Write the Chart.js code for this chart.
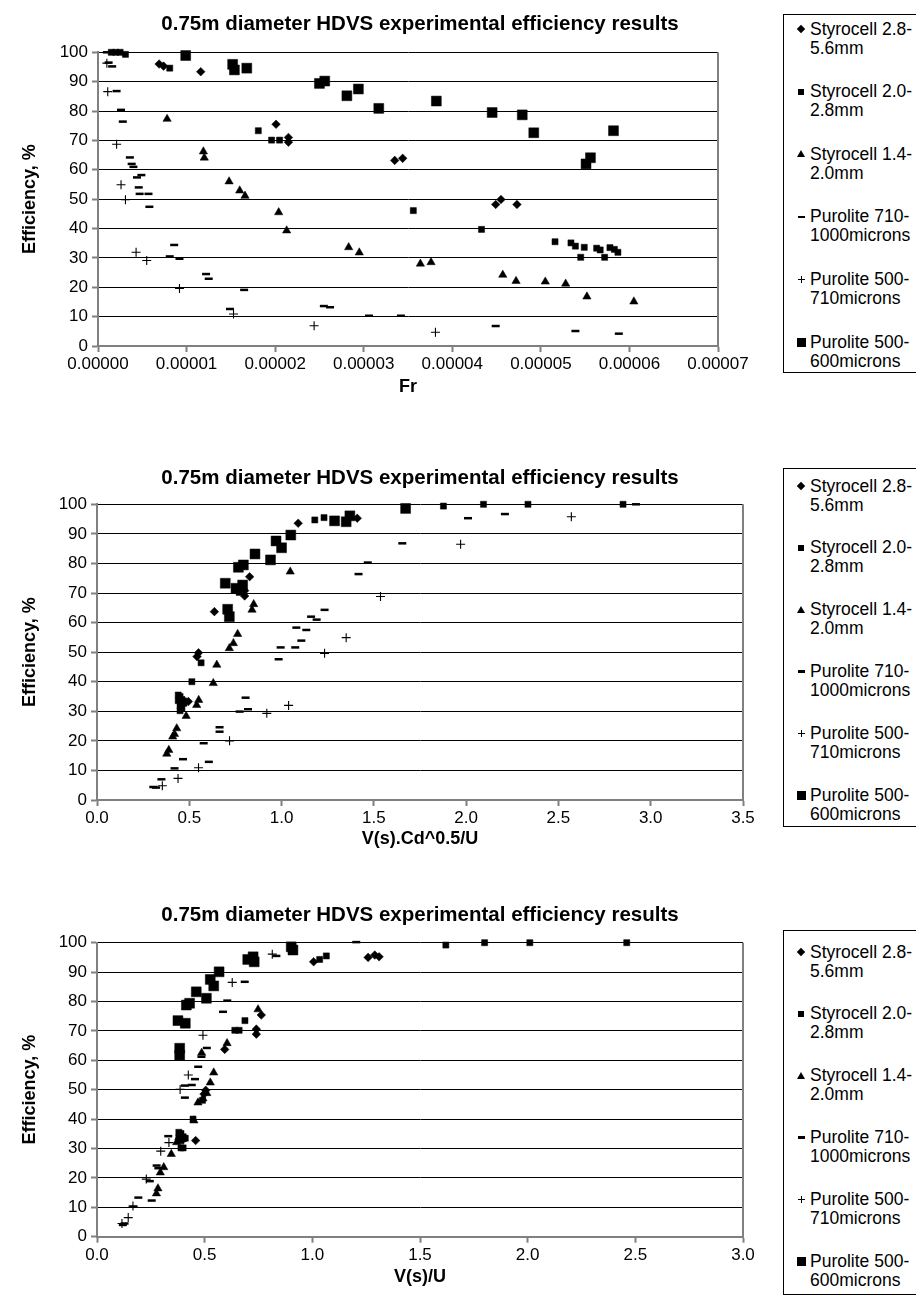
<!DOCTYPE html>
<html><head><meta charset="utf-8">
<script src="https://cdn.jsdelivr.net/npm/chart.js@4.4.0/dist/chart.umd.min.js"></script>
<style>
html,body{margin:0;padding:0;background:#fff;}
body{width:916px;height:1305px;position:relative;overflow:hidden;font-family:"Liberation Sans",Arial,sans-serif;}
canvas{position:absolute;left:0;}
.title{position:absolute;left:0;width:840px;text-align:center;font-weight:bold;font-size:20.5px;line-height:24px;color:#000;white-space:nowrap;}
.legend{position:absolute;left:783px;width:150px;border:1px solid #000;box-sizing:border-box;background:#fff;}
.item{position:absolute;left:0;width:140px;font-size:17.5px;line-height:19px;color:#000;}
.item .t{position:absolute;left:26px;top:0;white-space:pre;}
.mk{position:absolute;}
</style>
</head><body>
<canvas id="c1" width="840" height="400" style="top:0px"></canvas>
<canvas id="c2" width="840" height="400" style="top:452px"></canvas>
<canvas id="c3" width="840" height="400" style="top:890px"></canvas>
<div id="t1" class="title" style="top:11px"></div>
<div id="t2" class="title" style="top:465px"></div>
<div id="t3" class="title" style="top:902px"></div>
<div id="lg1" class="legend" style="top:14px;height:359px"></div>
<div id="lg2" class="legend" style="top:468px;height:359px"></div>
<div id="lg3" class="legend" style="top:930px;height:365px"></div>
<script>
// ---------- labels ----------
const TITLE = '0.75m diameter HDVS experimental efficiency results';
const Y_TITLE = 'Efficiency, %';
const X_TITLES = ['Fr', 'V(s).Cd^0.5/U', 'V(s)/U'];
const SERIES_NAMES = ['Styrocell 2.8-\n5.6mm', 'Styrocell 2.0-\n2.8mm', 'Styrocell 1.4-\n2.0mm',
  'Purolite 710-\n1000microns', 'Purolite 500-\n710microns', 'Purolite 500-\n600microns'];
const Y_TICKS = [0, 10, 20, 30, 40, 50, 60, 70, 80, 90, 100];
const X1_TICKS = [0, 0.00001, 0.00002, 0.00003, 0.00004, 0.00005, 0.00006, 0.00007];
const X2_TICKS = [0, 0.5, 1.0, 1.5, 2.0, 2.5, 3.0, 3.5];
const X3_TICKS = [0, 0.5, 1.0, 1.5, 2.0, 2.5, 3.0];

// ---------- chart 1 : Fr ----------
const FR_S28 = [0.0000069, 0.0000074, 0.0000116, 0.0000201, 0.0000215, 0.0000215, 0.0000335, 0.0000344, 0.0000449, 0.0000455, 0.0000473];
const EFF1_S28 = [96, 95.3, 93.4, 75.5, 71, 69.4, 63.2, 63.9, 48.2, 49.9, 48.2];
const FR_S20 = [0.0000015, 0.0000020, 0.0000025, 0.0000031, 0.0000081, 0.0000181, 0.0000196, 0.0000205, 0.0000356, 0.0000433, 0.0000516, 0.0000534, 0.0000539, 0.0000549, 0.0000545, 0.0000563, 0.0000567, 0.0000572, 0.0000578, 0.0000583, 0.0000587];
const EFF1_S20 = [100, 100, 100, 99.3, 94.6, 73.3, 70.1, 70.1, 46.1, 39.7, 35.5, 35.1, 34, 33.6, 30.2, 33.3, 32.7, 30.2, 33.5, 32.9, 31.9];
const FR_S14 = [0.0000078, 0.0000119, 0.0000120, 0.0000148, 0.0000160, 0.0000166, 0.0000204, 0.0000213, 0.0000283, 0.0000295, 0.0000364, 0.0000376, 0.0000457, 0.0000472, 0.0000505, 0.0000528, 0.0000552, 0.0000605];
const EFF1_S14 = [77.3, 66.2, 64.1, 56, 52.9, 51.1, 45.5, 39.3, 33.6, 31.8, 28, 28.5, 24.2, 22.1, 21.9, 21.2, 16.8, 15.1];
const FR_P710 = [0.0000010, 0.0000012, 0.0000016, 0.0000021, 0.0000026, 0.0000028, 0.0000036, 0.0000038, 0.0000040, 0.0000044, 0.0000049, 0.0000046, 0.0000047, 0.0000057, 0.0000058, 0.0000086, 0.0000081, 0.0000092, 0.0000122, 0.0000125, 0.0000165, 0.0000149, 0.0000255, 0.0000262, 0.0000306, 0.0000342, 0.0000449, 0.0000539, 0.0000588];
const EFF1_P710 = [100, 96.5, 95.2, 86.8, 80.4, 76.4, 64.2, 62, 61, 57.4, 58.2, 54, 51.8, 51.8, 47.4, 34.4, 30.5, 29.7, 24.5, 22.9, 19.1, 12.6, 13.6, 13.2, 10.3, 10.3, 6.8, 5.1, 4.2];
const FR_P500 = [0.0000010, 0.0000011, 0.0000021, 0.0000026, 0.0000031, 0.0000043, 0.0000055, 0.0000092, 0.0000153, 0.0000244, 0.0000381];
const EFF1_P500 = [96.3, 86.6, 68.7, 54.9, 49.8, 31.9, 29.1, 19.6, 10.9, 6.9, 4.7];
const FR_P600 = [0.0000099, 0.0000152, 0.0000154, 0.0000168, 0.0000250, 0.0000256, 0.0000281, 0.0000294, 0.0000317, 0.0000382, 0.0000445, 0.0000479, 0.0000492, 0.0000582, 0.0000551, 0.0000556];
const EFF1_P600 = [98.9, 95.9, 94.0, 94.6, 89.4, 90.2, 85.2, 87.5, 80.9, 83.4, 79.5, 78.7, 72.6, 73.3, 62, 64.1];

// ---------- chart 2 : V(s).Cd^0.5/U ----------
const VC_S28 = [1.09, 1.41, 0.827, 0.80, 0.80, 0.636, 0.55, 0.542, 0.495];
const EFF2_S28 = [93.6, 95.3, 75.5, 70.8, 69.0, 63.7, 49.8, 48.5, 33.3];
const VC_S20 = [1.18, 1.23, 1.877, 2.094, 2.335, 2.85, 0.77, 0.79, 0.564, 0.514, 0.44, 0.45, 0.46, 0.44, 0.45, 0.46, 0.47, 0.46, 0.47, 0.47, 0.45];
const EFF2_S20 = [94.7, 95.5, 99.4, 100, 100, 100, 70.2, 73.0, 46.4, 40.0, 35.5, 35, 34, 33.6, 30.2, 33.3, 32.7, 31, 33.5, 32.9, 31.9];
const VC_S14 = [1.047, 0.849, 0.84, 0.762, 0.739, 0.717, 0.649, 0.63, 0.551, 0.54, 0.483, 0.432, 0.42, 0.41, 0.389, 0.378];
const EFF2_S14 = [77.2, 66.2, 64.3, 56.1, 53, 51.3, 45.7, 39.5, 33.8, 32.1, 28.4, 24.2, 22.3, 21.4, 16.9, 15.6];
const VC_P710 = [2.92, 2.01, 2.21, 1.654, 1.467, 1.417, 1.233, 1.16, 1.19, 1.08, 1.134, 1.107, 0.995, 1.074, 0.984, 0.805, 0.773, 0.818, 0.664, 0.664, 0.578, 0.606, 0.466, 0.42, 0.349, 0.305, 0.32];
const EFF2_P710 = [100, 95.3, 96.7, 86.8, 80.3, 76.4, 64.3, 62, 61, 58.3, 57.5, 53.9, 51.6, 51.6, 47.6, 34.6, 29.9, 30.7, 24.6, 23.1, 19.2, 12.9, 13.8, 10.7, 7.0, 4.4, 4.2];
const VC_P500 = [2.57, 1.97, 1.536, 1.35, 1.233, 1.038, 0.92, 0.718, 0.55, 0.439, 0.354];
const EFF2_P500 = [95.8, 86.5, 68.8, 54.9, 49.6, 32.0, 29.3, 20.0, 10.9, 7.3, 4.8];
const VC_P600 = [1.672, 1.287, 1.35, 1.37, 1.05, 0.97, 1.0, 0.94, 0.856, 0.766, 0.793, 0.695, 0.753, 0.789, 0.708, 0.717];
const EFF2_P600 = [98.6, 94.4, 94.1, 96.1, 89.6, 87.6, 85.3, 81.2, 83.2, 78.7, 79.5, 73.3, 71.6, 72.7, 64.5, 62.0];

// ---------- chart 3 : V(s)/U ----------
const VU_S28 = [1.006, 1.259, 1.29, 1.31, 0.763, 0.74, 0.74, 0.593, 0.505, 0.497, 0.458];
const EFF3_S28 = [93.5, 95.0, 95.8, 95.2, 75.4, 70.6, 68.9, 63.7, 49.8, 48.5, 32.7];
const VU_S20 = [1.62, 1.80, 2.01, 2.46, 1.034, 1.065, 0.687, 0.64, 0.66, 0.49, 0.446, 0.38, 0.39, 0.40, 0.38, 0.39, 0.40, 0.39, 0.40, 0.41, 0.39];
const EFF3_S20 = [99.2, 100, 100, 100, 94.3, 95.5, 73.5, 70.2, 70.2, 46.4, 40, 35.5, 35.1, 34, 33.6, 30.2, 33.3, 32.7, 30.2, 33.5, 32.9];
const VU_S14 = [0.748, 0.604, 0.486, 0.542, 0.526, 0.51, 0.492, 0.469, 0.45, 0.38, 0.37, 0.345, 0.31, 0.294, 0.283, 0.276];
const EFF3_S14 = [77.3, 65.8, 62.5, 55.8, 52.4, 48.8, 47.0, 45.6, 39.5, 33.8, 32.1, 28.1, 23.6, 21.8, 16.4, 14.7];
const VU_P710 = [1.204, 0.833, 0.686, 0.605, 0.585, 0.51, 0.485, 0.47, 0.455, 0.44, 0.408, 0.408, 0.331, 0.277, 0.285, 0.245, 0.254, 0.192, 0.169, 0.128, 0.12];
const EFF3_P710 = [100.2, 95.5, 86.7, 80.3, 76.5, 64.2, 61.2, 57.8, 53.6, 51.6, 51.4, 47.3, 34.2, 24.2, 23.3, 18.9, 12.3, 13.3, 10.2, 4.5, 4.0];
const VU_P500 = [0.814, 0.628, 0.492, 0.424, 0.386, 0.334, 0.296, 0.229, 0.167, 0.145, 0.116];
const EFF3_P500 = [96.1, 86.5, 68.5, 55.0, 50.1, 32.0, 29.1, 19.6, 10.4, 6.5, 4.5];
const VU_P600 = [0.902, 0.91, 0.70, 0.725, 0.73, 0.567, 0.526, 0.542, 0.461, 0.508, 0.415, 0.43, 0.376, 0.41, 0.384, 0.384];
const EFF3_P600 = [98.6, 97.5, 94.3, 95.2, 93.5, 90.1, 87.5, 85.3, 83.3, 81.1, 78.8, 79.4, 73.5, 72.6, 64.1, 61.8];

// ---------- styles ----------
const FONT = '"Liberation Sans", Arial, sans-serif';
const MARKERS = [
  {pointStyle: 'rectRot', pointRadius: 4.3, borderWidth: 0.5},
  {pointStyle: 'rect', pointRadius: 4.3, borderWidth: 0.5},
  {pointStyle: 'triangle', pointRadius: 4.8, borderWidth: 0.5},
  {pointStyle: 'line', pointRadius: 4, borderWidth: 2.5},
  {pointStyle: 'cross', pointRadius: 4.5, borderWidth: 1.1},
  {pointStyle: 'rect', pointRadius: 7, borderWidth: 0.5}
];

const frameRight = {
  id: 'frameRight',
  beforeDatasetsDraw(chart) {
    const a = chart.chartArea, ctx = chart.ctx;
    ctx.save();
    ctx.strokeStyle = '#808080';
    ctx.lineWidth = 2;
    ctx.beginPath();
    ctx.moveTo(a.right, a.top);
    ctx.lineTo(a.right, a.bottom);
    ctx.stroke();
    ctx.restore();
  }
};

function makeChart(id, g) {
  const datasets = g.xs.map((xs, i) => ({
    label: SERIES_NAMES[i].replace('\n', ''),
    data: xs.map((x, j) => ({x: x, y: g.ys[i][j]})),
    showLine: false,
    backgroundColor: '#000',
    borderColor: '#000',
    clip: false,
    ...MARKERS[i]
  }));
  return new Chart(document.getElementById(id), {
    type: 'scatter',
    data: {datasets},
    plugins: [frameRight],
    options: {
      responsive: false, animation: false, devicePixelRatio: 1, events: [],
      layout: {padding: {left: 0, right: g.padRight, top: g.padTop, bottom: 0}},
      plugins: {legend: {display: false}, tooltip: {enabled: false}, title: {display: false}},
      scales: {
        x: {
          type: 'linear', min: g.xTicks[0], max: g.xTicks[g.xTicks.length - 1],
          afterBuildTicks: s => { s.ticks = g.xTicks.map(v => ({value: v})); },
          afterFit: s => { s.height = g.xHeight; },
          ticks: {callback: g.fmt, color: '#000', font: {family: FONT, size: 17}, padding: 2, maxRotation: 0, autoSkip: false},
          grid: {drawOnChartArea: false, drawTicks: true, tickLength: 6, tickColor: '#808080', tickWidth: 2},
          border: {display: true, color: '#808080', width: 2},
          title: {display: true, text: g.xTitle, color: '#000', font: {family: FONT, size: 18, weight: 'bold'}, padding: {top: 0, bottom: 2}}
        },
        y: {
          type: 'linear', min: 0, max: 100,
          afterBuildTicks: s => { s.ticks = Y_TICKS.map(v => ({value: v})); },
          afterFit: s => { s.width = g.yWidth; },
          ticks: {color: '#000', font: {family: FONT, size: 17}, padding: 4},
          grid: {color: '#000', lineWidth: 1, drawTicks: true, tickLength: 6, tickColor: '#808080', tickWidth: 2},
          border: {display: true, color: '#808080', width: 2},
          title: {display: true, text: Y_TITLE, color: '#000', font: {family: FONT, size: 18, weight: 'bold'}, padding: {top: 19, bottom: 0}}
        }
      }
    }
  });
}

makeChart('c1', {
  xs: [FR_S28, FR_S20, FR_S14, FR_P710, FR_P500, FR_P600],
  ys: [EFF1_S28, EFF1_S20, EFF1_S14, EFF1_P710, EFF1_P500, EFF1_P600],
  xTicks: X1_TICKS, fmt: v => Number(v).toFixed(5), xTitle: X_TITLES[0],
  padRight: 122, padTop: 52.3, yWidth: 98, xHeight: 54
});
makeChart('c2', {
  xs: [VC_S28, VC_S20, VC_S14, VC_P710, VC_P500, VC_P600],
  ys: [EFF2_S28, EFF2_S20, EFF2_S14, EFF2_P710, EFF2_P500, EFF2_P600],
  xTicks: X2_TICKS, fmt: v => Number(v).toFixed(1), xTitle: X_TITLES[1],
  padRight: 97, padTop: 52.3, yWidth: 97, xHeight: 52
});
makeChart('c3', {
  xs: [VU_S28, VU_S20, VU_S14, VU_P710, VU_P500, VU_P600],
  ys: [EFF3_S28, EFF3_S20, EFF3_S14, EFF3_P710, EFF3_P500, EFF3_P600],
  xTicks: X3_TICKS, fmt: v => Number(v).toFixed(1), xTitle: X_TITLES[2],
  padRight: 97, padTop: 52.7, yWidth: 97, xHeight: 53.3
});

['t1', 't2', 't3'].forEach(id => { document.getElementById(id).textContent = TITLE; });

// ---------- HTML legends ----------
function markerHTML(i) {
  switch (i) {
    case 0: return '<div class="mk" style="left:-3px;top:-3px;width:6px;height:6px;background:#000;transform:rotate(45deg)"></div>';
    case 1: return '<div class="mk" style="left:-3px;top:-3px;width:6px;height:6px;background:#000"></div>';
    case 2: return '<div class="mk" style="left:-4px;top:-4px;width:0;height:0;border-left:4px solid transparent;border-right:4px solid transparent;border-bottom:7px solid #000"></div>';
    case 3: return '<div class="mk" style="left:-3.5px;top:-1px;width:7px;height:2.5px;background:#000"></div>';
    case 4: return '<div class="mk" style="left:-3.5px;top:-0.5px;width:7px;height:1px;background:#000"></div><div class="mk" style="left:-0.5px;top:-3.5px;width:1px;height:7px;background:#000"></div>';
    case 5: return '<div class="mk" style="left:-4.5px;top:-4.5px;width:9px;height:9px;background:#000"></div>';
  }
}
function buildLegend(id, first, step) {
  const el = document.getElementById(id);
  SERIES_NAMES.forEach((name, i) => {
    const top = first + i * step;
    el.insertAdjacentHTML('beforeend',
      '<div class="item" style="top:' + (top - 9.5) + 'px">' +
      '<div style="position:absolute;left:17px;top:9.5px">' + markerHTML(i) + '</div>' +
      '<div class="t">' + name + '</div></div>');
  });
}
buildLegend('lg1', 14, 62.6);
buildLegend('lg2', 17, 61.8);
buildLegend('lg3', 21, 61.8);
</script>
</body></html>
